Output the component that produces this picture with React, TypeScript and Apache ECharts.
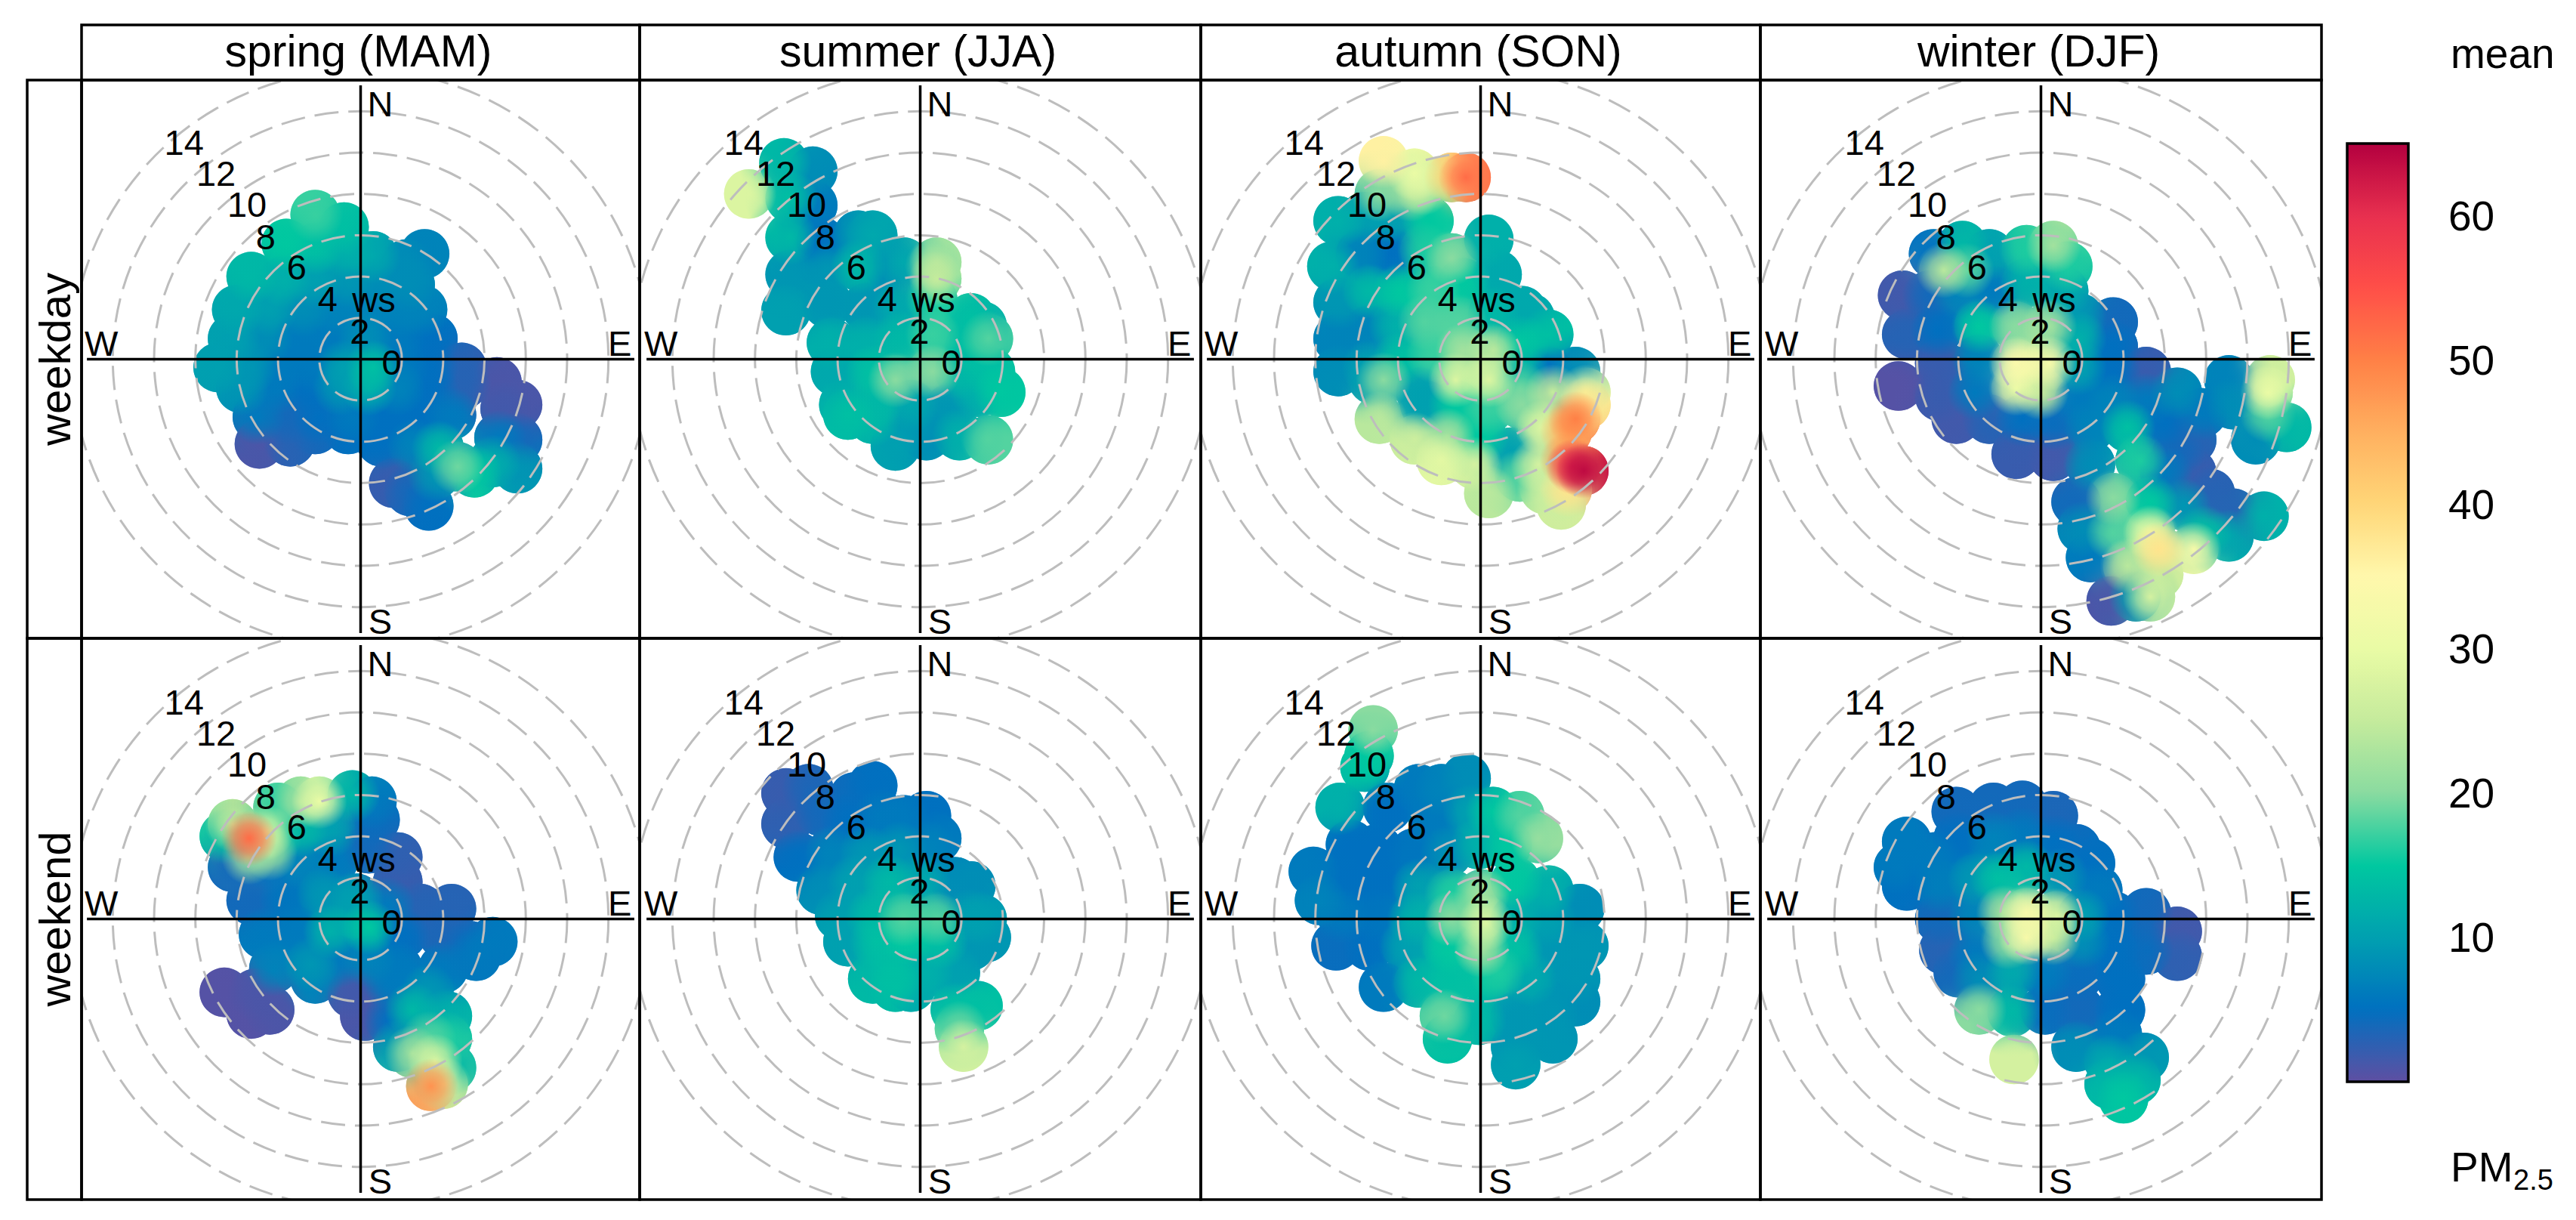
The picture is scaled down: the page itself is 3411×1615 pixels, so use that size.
import React, { useEffect, useRef } from "react";
import * as echarts from "echarts";

const seasons = ["spring (MAM)", "summer (JJA)", "autumn (SON)", "winter (DJF)"];
const dayTypes = ["weekday", "weekend"];
const ringSpeeds = [2, 4, 6, 8, 10, 12, 14];
const barTicks = [10, 20, 30, 40, 50, 60];
const barColours = ["#5e4fa2", "#0070c0", "#00a0b0", "#00c8a0", "#8adba0", "#c5eb9c", "#eafba5", "#fff8ac", "#ffd678", "#ffb05f", "#ff8046", "#ff4f48", "#e8304f", "#b3003f"];
const dialTexts = ["14", "12", "10", "8", "6", "4", "ws", "2", "0", "N", "S"];
const dialPlaces = [[-8.55, 10.5], [-7, 9], [-5.5, 7.5], [-4.6, 5.94], [-3.1, 4.47], [-1.6, 2.94], [0.64, 2.88], [-0.04, 1.37], [1.5, -0.14], [0.95, 12.35], [0.95, -12.7]];
const compassTexts = ["W", "E"];
const compassPlaces = [[-12.55, 0.75], [12.55, 0.75]];

// each point: east component of wind, north component of wind, mean PM2.5
const springWeekday = [
[-2.2,7,17],[-0.8,6.4,14],[-3.6,5.6,15],[-2.2,5.4,14],[-0.6,5.2,12],[0.6,5,11],[3.1,5.1,7],[2.2,4.6,8],
[-5.3,4,13],[-3.7,3.8,12],[-2.2,3.8,10],[-0.6,3.8,9],[1,3.8,8],[2.4,3.6,8],[-6,2.4,11],[-4.4,2.4,10],[-2.8,2.4,8],[-1.2,2.4,7],[0.4,2.4,7],[2,2.4,7],[3,2.4,7],
[-6.2,1,10],[-4.6,1,8],[-3,1,6],[-1.4,1,6],[0.2,1,8],[1.8,1,6],[3.5,1,5],[-6.9,-0.4,10],[-5.4,-0.4,9],[-3.8,-0.4,6],[-2.2,-0.4,6],[-0.8,-0.4,10],[0.6,-0.4,14],[2,-0.4,6],[3.4,-0.4,5],[4.9,-0.4,3],
[-5.8,-1.4,9],[-4.2,-1.4,6],[-2.6,-1.4,5],[-1,-1.4,9],[0.4,-1.4,12],[1.8,-1.4,7],[3.4,-1.4,5],[5,-1.2,3],[6.6,-1.1,1],
[-5,-2.8,6],[-3.6,-2.8,4],[-2,-2.8,5],[-0.4,-2.8,6],[1.2,-2.8,5],[2.8,-2.8,5],[4.4,-2.7,6],[7,-2.4,1.5],[7.6,-2.2,1],
[-4.9,-4.1,1],[-3.4,-4,3],[-2.2,-3.4,4],[-0.6,-3.4,5],[1,-4,5],[2.6,-4.2,7],[3.8,-4.3,13],[6.7,-3.8,6],[7.6,-3.9,4],
[4.7,-5.2,19],[5.5,-5.5,15],[6.4,-5,12],[7.6,-5.3,9],[1.6,-6,2],[2.4,-6.4,4],[3.3,-7.1,5],[3.6,-5.6,9]
];
const summerWeekday = [
[-8.3,8,28],[-6.6,9.5,13],[-5.2,9.1,8],[-6.3,7.8,14],[-5.2,7.45,6],[-6.3,5.9,13],[-4.8,5.7,5],[-3,6,9],[-2.3,6,11],
[-6.3,4.1,9],[-4.5,4.3,9],[-3,4.5,13],[-1.5,4.5,8],[-0.8,4.7,11],[0.6,4.5,19],[0.8,4.7,23],[0.8,3.9,25],
[-6.5,2.35,10],[-4.5,2.7,9],[-2.6,2.5,9],[-1,2.5,11],[0.6,2.9,16],[2.45,2,14],[3,1.6,12],
[-4.3,0.8,12],[-2.6,0.8,12],[-1,1,13],[0.6,1.2,17],[2.4,0.6,14],[3.3,1,18],
[-4.1,-0.6,11],[-2.3,-0.6,14],[-1.2,-1,20],[0.6,-0.6,20],[1.9,-0.6,13],[3.4,-0.6,14],
[-3.7,-2.2,12],[-2.1,-2,13],[-0.45,-2.2,11],[1.4,-2.4,9],[2.8,-1.6,12],[3.9,-1.6,15],
[-3.5,-2.7,14],[-2.3,-2.9,13],[-1.2,-4.2,10],[0.3,-3.7,8],[-0.3,-3.2,9],[1.9,-3.7,12],[3.3,-3.9,18]
];
const autumnWeekday = [
[-4.7,9.6,36],[-3.2,9,30],[-1.4,8.8,40],[-0.7,8.8,52],[-2.8,8.3,26],[-4.9,8,20],[-3.4,8,22],
[-6.9,6.7,12],[-5.6,6.9,10],[-4.3,6.9,10],[-2.5,6.7,15],[-7.2,4.5,12],[-5.8,5.1,7],[-4.3,5.1,5],[-2.7,5.3,16],[-1.4,4.9,20],[0.4,5.8,12],
[-6.9,2.75,9],[-5.4,3.3,13],[-3.9,3.3,15],[-2.3,3.3,17],[-0.85,3.7,15],[0.8,4.1,11],
[-6.9,1,7],[-5.4,1.4,7],[-4.1,1.6,12],[-2.7,1.8,18],[-1,1.8,18],[0.6,2.2,13],[2,2.35,11],[2.4,2,11],
[-6.9,-0.6,8],[-5.4,-0.4,10],[-3.9,0,14],[-2.3,0.2,17],[-0.85,0.4,22],[0.6,0.4,24],[2,0.8,15],[3.3,1.2,14],[4.6,-0.6,8],[3.3,-0.6,5],[2,-0.6,12],
[-5.2,-1,10],[-4.7,-1,20],[-2.9,-1.6,10],[-1.2,-1,28],[0.4,-1,28],[1.9,-1.4,18],
[-4.9,-2.9,24],[-2.7,-2.2,10],[-1.2,-2.2,15],[0.4,-2.4,17],[2,-2.2,20],[3.5,-1.6,25],[5.1,-1.6,30],[5.1,-2.2,38],
[-3.2,-3.9,26],[-1.6,-3.7,22],[0.05,-3.7,15],[1.5,-4.5,10],[3,-3.3,28],[4.2,-3.5,45],[4.6,-2.9,50],
[-1.9,-4.9,29],[-0.3,-5.1,27],[2.8,-5.1,27],[4.2,-4.9,48],[4.5,-5.2,60],[5,-5.4,64],
[0.4,-6.5,24],[1.9,-5.7,18],[3.1,-6.3,26],[4.2,-6.3,38],[3.9,-7.05,26]
];
const winterWeekday = [
[-5.2,5.1,5],[-3.8,5.5,13],[-2.5,5.1,10],[-0.7,5.3,16],[0.6,5.5,22],[1.3,4.5,16],[-4.7,4.3,24],[-3.6,4.3,18],
[-6.7,3.1,1.5],[-5.4,3.1,4],[-4,3.3,7],[-2.3,3.3,6],[-0.7,3.7,12],[1.1,3.3,11],[3.5,1.8,4],[1.85,2,9],
[-6.5,1.2,3],[-5,1.4,5],[-3,1.6,15],[-1.2,1.6,20],[0.4,1.6,22],[1.85,1,12],[3.5,0.6,5],
[-6.9,-1.3,0.5],[-4.9,-0.2,2],[-3,0,7],[-1.2,-0.2,34],[0.4,-0.2,33],[1.85,-0.4,10],[3.5,-0.6,5],[5.1,-0.6,2],[6.6,-1.6,8],[5.1,-2,6],
[-4.9,-1.8,2],[-3.2,-1.6,6],[-1.2,-1.4,30],[0,-1.6,25],[1.85,-2,6],[3.5,-2,7],
[-4.1,-2.9,1.5],[-2.5,-2.9,3],[-0.9,-2.9,5],[0.6,-3.1,4.5],[2.4,-3.3,7],[4.2,-3.3,14],[6,-3.1,5],
[-1.2,-4.6,2],[0.6,-4.7,1.5],[2.4,-5.1,8],[4.8,-4.9,16],[6.6,-4.5,4],
[9.1,-1,7],[11.1,-1,26],[11,-1.6,30],[9.3,-2.2,8],[11,-2.7,18],[11.9,-3.3,13],[10.4,-3.9,8],[7.8,-2.6,6],[7.3,-3.9,3],
[7.3,-5.5,2],[6,-5.5,6],[8.2,-6.5,3],[9.3,-7.45,3],[10.8,-7.6,12],
[3.5,-6.7,20],[1.7,-6.9,4],[5.3,-6.9,15],[6.9,-7.1,9],[7.9,-8.4,14],[9.1,-8.6,11],
[2,-8.2,8],[3.5,-8.4,18],[5.3,-8.4,30],[5.7,-9.2,38],[7.4,-9.2,33],[2.4,-9.6,6],[4.2,-10,24],[5.7,-10.4,25],
[5.3,-11.5,27],[3.4,-11.7,1],[4.6,-11.5,10]
];
const springWeekend = [
[-6.6,4,14],[-6.2,4.6,25],[-4.6,4.2,28],[-5.4,3,22],[-4.4,3.2,22],[-4.2,3.9,16],[-2.9,5.7,22],[-2,5.7,30],[-4,5.4,17],[-0.4,6,13],[0.55,5.7,6],[0.7,4.8,4.5],
[-1.45,4.3,10],[-2.9,4.3,13],[-6.2,2.5,4],[-4.5,2.7,5],[-2.9,2.7,7],[-1.3,2.85,6],[0.4,3.4,4],[1.8,3,2.5],
[-5.3,0.9,4],[-3.6,1,5.5],[-1.8,1.2,9],[-0.2,1,10],[1.8,1.8,2],[4.4,0.5,3],[2.9,0.5,3],[1.3,0.7,6],
[-4.7,-0.75,6],[-3.1,-0.6,6],[-1.45,-0.6,12],[0.4,-0.4,15],[2,-0.75,5],[4,-0.75,3.5],[6.4,-1.1,6],[5.3,-1.3,4.5],
[-4.2,-2.4,7],[-2.4,-2.2,9],[-1.1,-2,6],[0.4,-2,7],[1.8,-2.4,6],[4,-2.4,6],[5.6,-1.8,6],
[-2.2,-2.9,7],[-0.4,-3.6,1.5],[1.45,-3.1,6],[3.3,-3.5,9],
[-6.6,-3.55,0.5],[-5.3,-4.6,0.5],[-4.4,-4.4,1],[-5.1,-3.6,1],[0.2,-4.7,1],[1.45,-4.9,5],
[2.5,-4.4,13],[4.2,-4.7,12],[3.3,-5.8,18],[4.2,-5.8,16],[2.5,-6.5,22],[1.8,-6.2,10],[3.6,-6.9,28],[4.4,-7.2,13],[4,-8,28],[3.4,-8.1,48],
[-5.4,3.9,52]
];
const summerWeekend = [
[-6.5,6.1,2],[-5.4,6.3,3.5],[-6.5,4.6,2.5],[-4.8,5.2,4],[-2.3,6.45,5],[-3.2,5.9,4.5],[-3.5,4.8,5],[-1.9,5,6],[0.3,5,5],[-0.8,4.8,6],
[-5.9,3,5],[-4.3,3.2,7],[-2.6,3.2,9],[-1,3.4,9],[0.45,3.4,7],[0.8,3.9,6],
[-4.8,1.4,8],[-3.2,1.8,10],[-1.5,1.8,13],[0.1,1.9,11],[1.7,1.8,8],[2.45,1.6,8],
[-3.9,0.15,10],[-2.3,0.15,13],[-0.8,0,18],[0.8,0,18],[2.45,0.15,10],[3,0,10],
[-3.5,-1.1,10],[-2.1,-1.1,14],[-0.6,-0.9,15],[1,-1.1,14],[2.45,-1.3,9],[3.2,-0.9,9],
[-2.3,-2.9,13],[-1.2,-2.6,14],[0.3,-2.6,12],[1.7,-2.6,10],[-1.2,-3.3,14],[-0.45,-3.3,11],
[2.8,-4.2,14],[1.7,-4.4,14],[1.9,-5.3,19],[2.1,-6.2,27]
];
const autumnWeekend = [
[-5.2,9.15,20],[-5.4,7.9,15],[-5.6,7.35,14],[-6.8,5.4,12],[-4.5,5.4,5],[-3,6.3,6],[-0.7,6.8,8],[-1.9,6.3,7],[1.9,5,18],[0.6,5.2,15],[-0.5,5.2,10],[-2.3,4.8,6],
[2.8,3.9,21],[1.3,3.6,15],[-0.1,3.6,12],[-1.6,3.2,8],[-3.2,3.2,5.5],[-5,3.4,5],[-6.3,3.6,5],
[-8.1,2.3,6],[-7.8,0.9,7],[-6.3,1.9,5],[-4.7,1.8,5],[-3,1.6,10],[-1.4,1.2,16],[0.05,1.2,22],[1.7,1.8,15],[3.3,1.4,12],[4.8,0.5,8],
[-6.7,0.15,6],[-5,0.15,5.5],[-3.2,0,12],[-1.4,0,20],[0.25,-0.2,28],[1.7,0,12],[3.3,0,10],
[-7,-1.3,4.5],[-5.4,-1.3,5],[-3.6,-1.3,10],[-1.6,-1.3,15],[0.05,-1.5,22],[1.7,-1.5,14],[3.5,-1.5,9],[5,-1.3,9],
[-4.7,-3.3,6],[-3,-3.1,13],[-1.4,-2.9,14],[0.8,-2.6,16],[0.2,-2.9,14],[2.4,-2.9,11],[4.6,-2.9,9],
[-1.75,-4.7,19],[-1.6,-5.8,14],[-0.1,-4.9,13],[1.7,-4.7,9],[4.6,-4,8],[3.5,-4.5,9],[3.5,-5.8,9],[1.7,-7.05,10],[1.7,-6.2,9]
];
const winterWeekend = [
[-6.5,3.75,6],[-6.9,2.5,6],[-6.5,1.6,5],[-5.2,3,6],[-4.1,5.2,4],[-2.3,5.4,4],[-0.9,5.5,4],[0.6,5,3.5],
[-4,3.9,5],[-2.3,3.9,7],[-0.9,4.1,6],[0.6,3.75,5],[1.7,3.4,4.5],[2.4,2.7,5],
[-4.9,1.6,6.5],[-3.2,1.95,9],[-2.1,1.95,14],[-0.7,2.5,13],[0.95,2.1,9],[2.75,1.4,6],
[-4.9,0,4],[-3.2,0.15,7],[-1.8,0.3,22],[-0.7,0.3,33],[0.75,0.15,28],[2,0.15,10],[3.5,0.15,5],[5.1,0.3,4],[6.6,-0.6,1.5],[6.6,-1.8,2.5],[5.1,-1.5,4.5],
[-4.7,-1.5,3],[-3.2,-1.65,6],[-1.6,-1.1,20],[-0.7,-0.9,33],[0.6,-0.9,25],[2,-1.1,8],[3.5,-1.5,5],
[-3,-2.9,8],[-1.4,-2.6,11],[0.2,-2.6,6],[1.85,-2.7,4.5],[3.85,-2.9,5],[-4,-2.6,4],
[-3,-4.4,20],[-1.4,-4.5,13],[0.2,-4.4,4.5],[1.85,-4.4,4],[3.85,-4.4,5],
[-1.3,-6.8,27],[1.7,-6.2,8],[3.7,-5.6,6],[5,-6.7,9],[3.3,-6.9,11],[4,-8.7,15],[3.3,-8,13],[4.6,-7.8,13]
];
const panelPoints = [springWeekday, summerWeekday, autumnWeekday, winterWeekday, springWeekend, summerWeekend, autumnWeekend, winterWeekend];

const colEdges = [108, 847, 1590, 2331, 3074];
const rowEdges = [106, 845, 1588];
const pxPerWs = 27.35;
const blobRadius = 1.2;
const softPasses = [
  { radius: 2.2, alpha: [0.7, 0.4, 0], ascending: false },
  { radius: 1.35, alpha: [1, 0.65, 0], ascending: true },
];

function App() {
  const ref = useRef<HTMLDivElement>(null);
  useEffect(() => {
    document.body.style.margin = "0";
    const chart = echarts.init(ref.current!, undefined, { renderer: "svg" });
    const grids: any[] = [], xAxes: any[] = [], yAxes: any[] = [], series: any[] = [];
    const blobSeries: number[] = [];
    const font = { fontFamily: "Liberation Sans" };

    panelPoints.forEach((pts, i) => {
      const c = i % 4, r = Math.floor(i / 4);
      const w = colEdges[c + 1] - colEdges[c], h = rowEdges[r + 1] - rowEdges[r];
      grids.push({ left: colEdges[c], top: rowEdges[r], width: w, height: h, show: false });
      xAxes.push({ type: "value", gridIndex: i, min: -w / 2 / pxPerWs, max: w / 2 / pxPerWs, show: false });
      yAxes.push({ type: "value", gridIndex: i, min: -h / 2 / pxPerWs, max: h / 2 / pxPerWs, show: false });
      const base = { type: "custom", xAxisIndex: i, yAxisIndex: i, silent: true, clip: true, encode: { x: 0, y: 1 } };
      blobSeries.push(series.length);
      series.push({ ...base, z: 2, data: pts, renderItem: (_: any, api: any) => {
        const p = api.coord([api.value(0), api.value(1)]);
        return { type: "circle", shape: { cx: p[0], cy: p[1], r: api.size([blobRadius, blobRadius])[0] }, style: { fill: api.visual("color") } };
      } });
      blobSeries.push(series.length);
      series.push({ ...base, z: 3, data: pts, renderItem: (params: any, api: any) => {
        if (params.dataIndex !== 0) return null;
        const places = pts.map((_, k) => api.coord([api.value(0, k), api.value(1, k)]));
        const colours = pts.map((_, k) => api.visual("color", k));
        const hard = api.size([blobRadius, blobRadius])[0];
        const pathData = places.map((p: number[]) =>
          `M${p[0] - hard} ${p[1]}a${hard} ${hard} 0 1 0 ${2 * hard} 0a${hard} ${hard} 0 1 0 ${-2 * hard} 0Z`).join("");
        const children: any[] = [];
        softPasses.forEach((pass) => {
          const order = pts.map((_, k) => k).sort((a, b) => (pass.ascending ? pts[a][2] - pts[b][2] : pts[b][2] - pts[a][2]));
          const rad = api.size([pass.radius, pass.radius])[0];
          order.forEach((k) => {
            const col = colours[k];
            children.push({ type: "circle", shape: { cx: places[k][0], cy: places[k][1], r: rad }, style: {
              fill: new echarts.graphic.RadialGradient(0.5, 0.5, 0.5, [
                { offset: 0, color: echarts.color.modifyAlpha(col, pass.alpha[0]) },
                { offset: 0.5, color: echarts.color.modifyAlpha(col, pass.alpha[1]) },
                { offset: 1, color: echarts.color.modifyAlpha(col, pass.alpha[2]) },
              ]),
            } });
          });
        });
        return { type: "group", clipPath: { type: "path", shape: { pathData } }, children };
      } });
      series.push({ ...base, z: 4, data: ringSpeeds.map((s) => [0, 0, s]), renderItem: (_: any, api: any) => {
        const p = api.coord([0, 0]);
        return { type: "circle", shape: { cx: p[0], cy: p[1], r: api.size([api.value(2), 0])[0] },
          style: { fill: "none", stroke: "#bdbdbd", lineWidth: 3, lineDash: [32, 13] } };
      } });
      series.push({ ...base, z: 5, data: [[-13.25, 0, 13.25, 0], [0, 13.25, 0, -13.25]], renderItem: (_: any, api: any) => {
        const a = api.coord([api.value(0), api.value(1)]), b = api.coord([api.value(2), api.value(3)]);
        return { type: "line", shape: { x1: a[0], y1: a[1], x2: b[0], y2: b[1] }, style: { stroke: "#000", lineWidth: 3.5 } };
      } });
      const textItem = (texts: string[]) => (params: any, api: any) => {
        const p = api.coord([api.value(0), api.value(1)]);
        return { type: "text", x: p[0], y: p[1], style: { text: texts[params.dataIndex], fill: "#000", fontSize: 47, fontFamily: "Liberation Sans",
          align: "center", verticalAlign: "middle", textAlign: "center", textVerticalAlign: "middle" } };
      };
      series.push({ ...base, z: 6, clip: false, data: dialPlaces, renderItem: textItem(dialTexts) });
      series.push({ ...base, z: 6, clip: false, data: compassPlaces, renderItem: textItem(compassTexts) });
    });

    // colour key
    const keyGrid = grids.length;
    grids.push({ left: 3108, top: 190, width: 81, height: 1242, show: false });
    xAxes.push({ type: "value", gridIndex: keyGrid, min: 0, max: 1, show: false });
    yAxes.push({ type: "value", gridIndex: keyGrid, position: "right", min: 0, max: 65, splitLine: { show: false },
      axisLine: { show: false },
      axisTick: { show: true, length: 23, customValues: barTicks, lineStyle: { color: "#000", width: 2 } },
      axisLabel: { show: true, customValues: barTicks, margin: 53, fontSize: 55, color: "#000", ...font } });

    const graphic: any[] = [];
    const strip = (x: number, y: number, width: number, height: number) =>
      graphic.push({ type: "rect", shape: { x, y, width, height }, style: { fill: "none", stroke: "#000", lineWidth: 3.5 }, z: 20 });
    for (let c = 0; c < 4; c++) {
      strip(colEdges[c], 33, colEdges[c + 1] - colEdges[c], rowEdges[0] - 33);
      graphic.push({ type: "text", x: (colEdges[c] + colEdges[c + 1]) / 2 - 3, y: 68, z: 21,
        style: { text: seasons[c], fontSize: 59, fill: "#000", ...font, align: "center", verticalAlign: "middle", textAlign: "center", textVerticalAlign: "middle" } });
      for (let r = 0; r < 2; r++) strip(colEdges[c], rowEdges[r], colEdges[c + 1] - colEdges[c], rowEdges[r + 1] - rowEdges[r]);
    }
    for (let r = 0; r < 2; r++) {
      strip(36, rowEdges[r], 72, rowEdges[r + 1] - rowEdges[r]);
      graphic.push({ type: "text", x: 72, y: (rowEdges[r] + rowEdges[r + 1]) / 2, rotation: Math.PI / 2, z: 21,
        style: { text: dayTypes[r], fontSize: 58, fill: "#000", ...font, align: "center", verticalAlign: "middle", textAlign: "center", textVerticalAlign: "middle" } });
    }
    strip(3108, 190, 81, 1242);
    const keyText = (text: string, x: number, y: number, fontSize: number) =>
      graphic.push({ type: "text", x, y, z: 21, style: { text, fontSize, fill: "#000", ...font, align: "left", verticalAlign: "middle", textAlign: "left", textVerticalAlign: "middle" } });
    keyText("mean", 3245, 71, 55);
    keyText("PM", 3245, 1545, 55);
    keyText("2.5", 3328, 1562, 38);

    chart.setOption({
      animation: false,
      backgroundColor: "#fff",
      grid: grids,
      xAxis: xAxes,
      yAxis: yAxes,
      series,
      graphic,
      visualMap: { type: "continuous", min: 0, max: 65, dimension: 2, seriesIndex: blobSeries, left: 3108, top: 190, itemWidth: 81, itemHeight: 1242,
        padding: 0, calculable: false, hoverLink: false, text: ["", ""], showLabel: false, inRange: { color: barColours } },
    });
    return () => chart.dispose();
  }, []);
  return <div ref={ref} style={{ position: "absolute", left: 0, top: 0, width: 3411, height: 1615 }} />;
}

export default App;
